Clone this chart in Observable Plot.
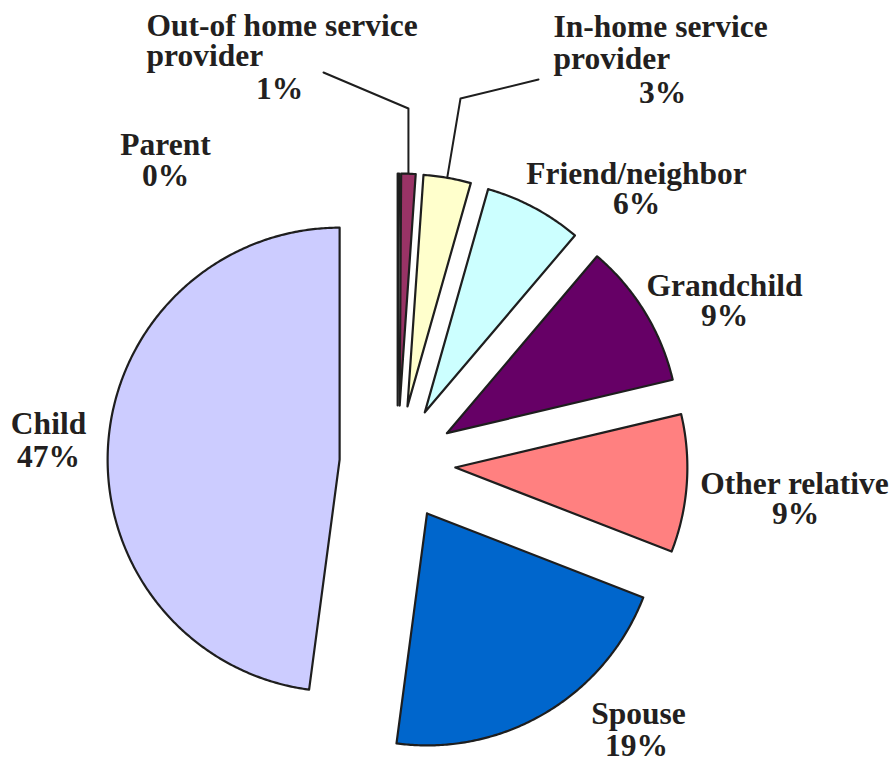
<!DOCTYPE html>
<html>
<head>
<meta charset="utf-8">
<script src="https://cdn.jsdelivr.net/npm/d3@7"></script>
<script src="https://cdn.jsdelivr.net/npm/@observablehq/plot@0.6"></script>
<style>
  html, body { margin: 0; padding: 0; background: #ffffff; }
  #chart svg { display: block; }
</style>
</head>
<body>
<div id="chart"></div>
<script>
// ---------------- data ----------------
const categories = ["Parent", "Out-of home service provider", "In-home service provider", "Friend/neighbor", "Grandchild", "Other relative", "Spouse", "Child"];
// slice sizes (share of the circle)
const shares = [0.1, 1.0, 3.3, 6.8, 10.1, 9.6, 21.2, 47.9];
// label texts as printed
const labelNames = [["Parent"], ["Out-of home service", "provider"], ["In-home service", "provider"], ["Friend/neighbor"], ["Grandchild"], ["Other relative"], ["Spouse"], ["Child"]];
const labelPercents = ["0%", "1%", "3%", "6%", "9%", "9%", "19%", "47%"];
const colors = ["#9999FF", "#993366", "#FFFFCC", "#CCFFFF", "#660066", "#FF8080", "#0066CC", "#CCCCFF"];

// ---------------- layout ----------------
const W = 893, H = 761;
const CX = 397, CY = 463, R = 232, EXPLODE = 58;
const FS = 31.5;
// per category: anchor, x of name lines, x of percent line, baseline of each line (names..., percent)
const labelLayout = [
  {anchor: "middle", x: 165, px: 165, base: [154, 185]},
  {anchor: "start",  x: 146, px: 279, base: [35, 65, 98]},
  {anchor: "start",  x: 553, px: 662, base: [36, 68, 102]},
  {anchor: "middle", x: 636, px: 636, base: [183, 213]},
  {anchor: "middle", x: 724, px: 724, base: [295, 325]},
  {anchor: "middle", x: 794, px: 795, base: [493, 523]},
  {anchor: "middle", x: 638, px: 636, base: [723, 755]},
  {anchor: "middle", x: 48,  px: 48,  base: [433, 466]}
];
// leader lines: index -> label end point and elbow
const leaderLayout = {
  1: {start: [323, 72], elbowY: 108, elbowX: null},
  2: {start: [538, 79], elbowY: 98, elbowX: 460}
};

// ---------------- geometry from data ----------------
const arcs = d3.pie().sort(null).value(d => d)(shares);
const slicePts = [];
const apexes = [];
arcs.forEach((p, i) => {
  const cat = categories[i];
  const mid = (p.startAngle + p.endAngle) / 2;
  const ax = CX + EXPLODE * Math.sin(mid), ay = CY - EXPLODE * Math.cos(mid);
  apexes.push({ax, ay, mid});
  slicePts.push({cat, x: ax, y: ay});
  const span = p.endAngle - p.startAngle;
  const n = Math.max(2, Math.ceil(span / (Math.PI / 360)));
  for (let k = 0; k <= n; k++) {
    const a = p.startAngle + span * k / n;
    slicePts.push({cat, x: ax + R * Math.sin(a), y: ay - R * Math.cos(a)});
  }
  slicePts.push({cat, x: ax, y: ay});
});

const leaderPts = [];
Object.entries(leaderLayout).forEach(([k, L]) => {
  const i = +k;
  const {ax, ay, mid} = apexes[i];
  const ex = ax + R * Math.sin(mid), ey = ay - R * Math.cos(mid);
  const elx = L.elbowX == null ? ex : L.elbowX;
  leaderPts.push({id: i, x: L.start[0], y: L.start[1]});
  leaderPts.push({id: i, x: elx, y: L.elbowY});
  leaderPts.push({id: i, x: ex, y: ey - 1});
});

const textPts = [];
categories.forEach((c, i) => {
  const L = labelLayout[i];
  labelNames[i].forEach((t, j) => {
    textPts.push({text: t, x: L.x, y: L.base[j] - 0.32 * FS, anchor: L.anchor});
  });
  textPts.push({text: labelPercents[i], x: L.px, y: L.base[labelNames[i].length] - 0.32 * FS, anchor: "middle"});
});

const textOpts = {x: "x", y: "y", text: "text", fontSize: FS, fontWeight: "bold",
  fontFamily: "'Liberation Serif', 'Times New Roman', serif", fill: "#231f20"};

const chart = Plot.plot({
  width: W,
  height: H,
  margin: 0,
  style: {background: "#ffffff"},
  x: {domain: [0, W], range: [0, W], axis: null},
  y: {domain: [0, H], range: [0, H], axis: null},
  color: {domain: categories, range: colors},
  marks: [
    Plot.line(slicePts, {x: "x", y: "y", z: "cat", fill: "cat", stroke: "#1e1e1e", strokeWidth: 2.2, curve: "linear"}),
    Plot.line(leaderPts, {x: "x", y: "y", z: "id", stroke: "#1e1e1e", strokeWidth: 2, curve: "linear"}),
    Plot.text(textPts.filter(d => d.anchor === "middle"), {...textOpts, textAnchor: "middle"}),
    Plot.text(textPts.filter(d => d.anchor === "start"), {...textOpts, textAnchor: "start"})
  ]
});
document.getElementById("chart").appendChild(chart);
</script>
</body>
</html>
